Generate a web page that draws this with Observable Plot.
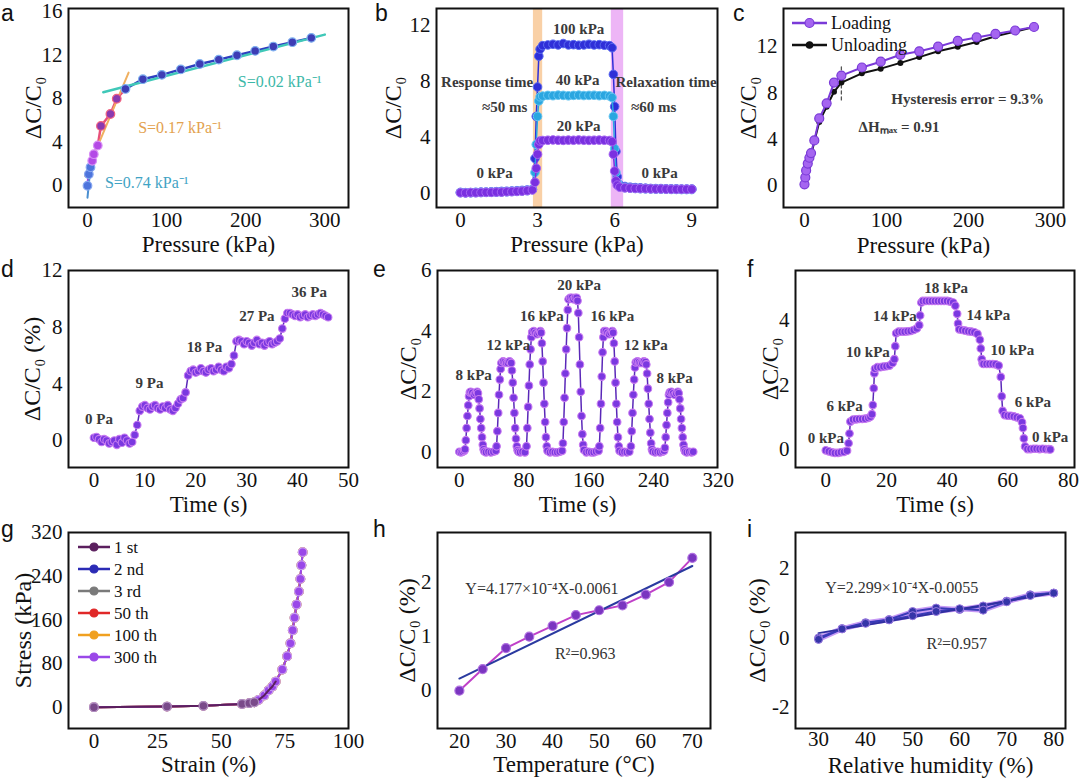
<!DOCTYPE html>
<html><head><meta charset="utf-8">
<script src="https://cdn.jsdelivr.net/npm/d3@7"></script>
<script src="https://cdn.jsdelivr.net/npm/@observablehq/plot@0.6"></script>
<style>
body{margin:0;background:#fff;}
#fig{position:relative;width:1080px;height:779px;overflow:hidden;background:#fff;font-family:"Liberation Serif","Times New Roman",serif;}
#fig svg text{font-family:"Liberation Serif","Times New Roman",serif;}
.plab{position:absolute;font-family:"Liberation Sans",Arial,sans-serif;font-size:23px;line-height:1;color:#111;}
.leg{position:absolute;display:flex;align-items:center;color:#111;white-space:nowrap;line-height:1;font-family:"Liberation Serif","Times New Roman",serif;}
</style></head><body><div id="fig"></div><script>
// ---------- data ----------
// a: sensitivity
const aPressure = [0,1.7,3.8,6,8,13,17,29,37,48,70,94,118,142,166,189,212,235,259,283];
const aSignal   = [0,1.06,1.7,2.3,2.9,3.7,5.5,6.6,8.0,8.9,9.8,10.2,10.7,11.2,11.6,12.0,12.4,12.8,13.2,13.6];
const aFit1X = [0,5],   aFit1Y = [-1.1,2.6];
const aFit2X = [-3,52], aFit2Y = [0.9,10.4];
const aFit3X = [20,300], aFit3Y = [8.6,13.9];
const aNotes = ["S=0.02 kPa⁻¹","S=0.17 kPa⁻¹","S=0.74 kPa⁻¹"];
const aNoteX = [243,117,75], aNoteY = [9.55,5.36,0.3];

// b: response
const bTime = [0,0.2,0.4,0.6,0.8,1.0,1.2,1.4,1.6,1.8,2.0,2.2,2.4,2.6,2.8, 2.9,2.95,3.0,3.05,3.1, 3.2,3.4,3.6,3.8,4.0,4.2,4.4,4.6,4.8,5.0,5.2,5.4,5.6,5.8, 5.9,5.95,6.0,6.05,6.1,6.2, 6.4,6.6,6.8,7.0,7.2,7.4,7.6,7.8,8.0,8.2,8.4,8.6,8.8,9.0];
const b20  = [0.05,0.04,0.06,0.05,0.07,0.08,0.08,0.1,0.1,0.12,0.13,0.15,0.17,0.2,0.25, 0.8,1.8,2.8,3.5,3.75, 3.78,3.8,3.82,3.8,3.79,3.81,3.8,3.82,3.8,3.79,3.8,3.81,3.8,3.78, 3.7,2.8,1.6,0.9,0.6,0.45, 0.4,0.38,0.36,0.35,0.34,0.33,0.32,0.32,0.31,0.3,0.3,0.3,0.3,0.3];
const b40  = [0.06,0.05,0.05,0.07,0.07,0.08,0.09,0.1,0.11,0.12,0.14,0.15,0.18,0.2,0.28, 1.5,3.5,5.5,6.6,6.9, 6.95,7.0,6.98,7.02,7.0,6.97,7.0,7.02,6.99,7.0,7.01,6.98,7.0,6.96, 6.85,5.5,3.2,1.5,0.8,0.5, 0.42,0.38,0.36,0.34,0.33,0.32,0.31,0.3,0.3,0.29,0.29,0.28,0.28,0.28];
const b100 = [0.08,0.06,0.07,0.08,0.1,0.1,0.12,0.13,0.15,0.16,0.18,0.2,0.22,0.25,0.3, 2.5,5.5,7.6,9.8,10.3, 10.55,10.6,10.65,10.6,10.7,10.6,10.62,10.58,10.6,10.65,10.6,10.62,10.58,10.55, 10.4,8.5,6.2,3.0,1.2,0.6, 0.5,0.45,0.42,0.4,0.38,0.36,0.35,0.35,0.34,0.33,0.33,0.32,0.32,0.32];
const bResponseBand = [2.84,3.2], bRelaxBand = [5.87,6.35];
const bNotes = ["100 kPa","40 kPa","20 kPa","0 kPa","0 kPa","Response time","≈50 ms","Relaxation time","≈60 ms"];
const bNoteX = [4.6,4.56,4.6,1.33,7.75,1.04,1.72,8.0,7.52];
const bNoteY = [11.7,8.08,4.82,1.43,1.43,7.96,6.18,7.96,6.18];

// c: hysteresis
const cPressure  = [0,1,2,4,6,8,12,18,27,36,45,70,93,117,140,163,187,210,233,257,280];
const cLoading   = [0.1,0.7,1.3,1.9,2.4,2.8,3.9,5.8,7.1,8.9,9.5,10.2,10.7,11.3,11.6,12.0,12.5,12.8,13.1,13.4,13.7];
const cUnloading = [0,0.4,1.0,1.6,2.2,2.6,3.8,5.5,6.8,8.1,8.9,9.7,10.1,10.6,11.1,11.6,12.0,12.4,12.9,13.3,13.7];
const cDashX = [45,45], cDashY = [7.4,10.4];
const cNotes = ["Hysteresis error = 9.3%","ΔHₘₐₓ = 0.91"];
const cNoteX = [199,66], cNoteY = [7.47,5.03];

// d: low pressure steps
const dTime = [0,0.5,1,1.5,2,2.5,3,3.5,4,4.5,5,5.5,6,6.5,7,7.5,8,8.5,9,9.5,10,10.5,11,11.5,12,12.5,13,13.5,14,14.5,15,15.5,16,16.5,17,17.5,18,18.5,19,19.5,20,20.5,21,21.5,22,22.5,23,23.5,24,24.5,25,25.5,26,26.5,27,27.5,28,28.5,29,29.5,30,30.5,31,31.5,32,32.5,33,33.5,34,34.5,35,35.5,36,36.5,37,37.5,38,38.5,39,39.5,40,40.5,41,41.5,42,42.5,43,43.5,44,44.5,45,45.5,46];
const dValue = [0.2,0.25,0.1,-0.1,0.1,0.0,-0.2,-0.1,0.0,-0.3,0.1,-0.15,0.2,0.0,-0.2,-0.1, 0.4,1.1,2.1,2.4, 2.5,2.3,2.2,2.4,2.5,2.3,2.2,2.4,2.3,2.5,2.2,2.1,2.3, 2.6,2.9,3.0,3.4,4.6,4.9, 5.0,4.8,4.9,5.1,4.9,4.8,5.0,5.1,4.9,5.0,5.2,5.0,4.9,5.2,5.1,5.4, 6.0,7.0,7.1, 7.0,6.8,7.0,6.9,6.7,6.9,7.1,6.8,6.9,6.7,6.9,7.0,6.8,6.9,7.0,7.2, 7.9,8.6,9.0, 9.0,8.9,8.8,8.9,8.7,8.8,8.9,8.7,8.8,8.9,8.8,8.9,9.0,8.9,8.8,8.7];
const dNotes = ["0 Pa","9 Pa","18 Pa","27 Pa","36 Pa"];
const dNoteX = [1.0,10.9,21.7,32,42.3], dNoteY = [1.53,4.05,6.6,8.8,10.5];

// e: cyclic peaks
const eTime = [0,2,4,6, 7,8,9,10,11,12,13, 14,16,18,20,22,23, 24,25,26,27,28,29,30,31, 33,36,39,42,45,
 46,47,48,49,50,51,52, 54,56,58,60,62,64, 65,66,67,68,69,70,71,72,73, 75,78,81,
 83,84,85,86,87,88,89,90, 92,94,96,98,100,101, 102,103,104,105,106,107,108,109, 112,115,118,121,124,127,
 128,129,130,131,132,133,134,135, 137,139,141,143,145,146, 147,148,149,150,151,152,153,154, 157,160,163,166,169,172,
 173,174,175,176,177,178,179, 181,183,185,187,189,190, 191,192,193,194,195,196,197,198, 201,204,207,210,
 212,213,214,215,216,217,218, 220,222,224,226,228,230,231, 232,233,234,235,236,237,238,239, 242,245,248,251,253,
 254,255,256,257,258,259,260, 262,264,266,268,270,271, 272,273,274,275,276,277,278,279, 281,284,287,289];
const eValue = [0.02,0,0.02,0.05, 0.1,0.4,0.8,1.2,1.55,1.85,1.98, 2.0,1.97,1.9,1.95,2.0,1.95, 1.75,1.45,1.1,0.8,0.5,0.25,0.1,0.03, 0,0.02,0,0.02,0.05,
 0.2,0.7,1.3,1.9,2.4,2.75,2.95, 3.0,2.98,2.95,2.95,3.0,2.95, 2.7,2.3,1.8,1.3,0.8,0.45,0.2,0.07,0.02, 0,0.02,0,
 0.2,0.8,1.5,2.2,2.9,3.4,3.8,3.97, 4.0,3.95,3.9,3.95,4.0,3.95, 3.6,3.0,2.3,1.6,1.0,0.5,0.2,0.05, 0,0.02,0,0,0.02,0.05,
 0.3,1.0,1.8,2.6,3.4,4.1,4.7,5.05, 5.1,5.1,5.05,5.1,5.1,5.0, 4.6,3.8,2.9,2.0,1.2,0.6,0.25,0.08, 0,0.02,0,0,0.03,0.05,
 0.2,0.8,1.6,2.5,3.3,3.8,4.0, 4.0,3.95,3.9,3.95,4.0,3.95, 3.6,3.0,2.3,1.6,1.0,0.5,0.2,0.05, 0,0.02,0,0.02,
 0.2,0.7,1.3,1.9,2.4,2.8,2.97, 3.0,2.98,2.95,2.95,3.0,2.98,2.9, 2.6,2.1,1.6,1.1,0.65,0.3,0.1,0.03, 0,0.02,0,0.02,0.05,
 0.15,0.5,0.9,1.3,1.65,1.9,1.98, 2.0,1.95,1.9,1.95,2.0,1.95, 1.75,1.45,1.1,0.8,0.5,0.25,0.1,0.03, 0,0.02,0,0.02];
const eNotes = ["8 kPa","12 kPa","16 kPa","20 kPa","16 kPa","12 kPa","8 kPa"];
const eNoteX = [17.7,60.6,102,148,189,230.5,266], eNoteY = [2.55,3.52,4.49,5.52,4.49,3.52,2.46];

// f: staircase
const fTime = [0,1,2,3,4,5,6,7, 7.5,7.8,8.1, 9,10,11,12,13,14,14.7, 15.2,15.5,15.8,16.0,16.2, 17,18,19,20,21,22, 22.6,22.9,23.2, 24,25,26,27,28,29,30, 30.8,31.1,31.5, 32,33,34,35,36,37,38,39,40,41,42,42.7, 43.3,43.6,44, 45,46,47,48,49,50, 50.8,51.1,51.4,51.7, 52,53,54,55,56,57, 57.7,58,58.3, 59,60,61,62,63,64, 64.7,65,65.3,65.7, 66.5,67.5,68.5,69.5,70.5,71.5,72.5,73.5,74];
const fValue = [-0.02,-0.05,-0.08,-0.1,-0.1,-0.08,-0.07,-0.03, 0.2,0.5,0.87, 0.93,0.94,0.95,0.95,0.96,0.98,1.02, 1.1,1.38,1.9,2.36,2.5, 2.55,2.55,2.57,2.58,2.6,2.68, 2.8,3.2,3.6, 3.65,3.65,3.65,3.66,3.67,3.7,3.75, 3.85,4.15,4.55, 4.6,4.6,4.6,4.6,4.6,4.6,4.6,4.6,4.6,4.58,4.55,4.45, 4.2,3.9,3.72, 3.7,3.68,3.66,3.65,3.63,3.58, 3.4,3.13,2.8,2.67, 2.65,2.65,2.65,2.65,2.64,2.6, 2.25,1.65,1.2, 1.07,1.05,1.05,1.03,1.0,0.97, 0.85,0.67,0.35,0.1, 0.02,0.02,0.03,0.03,0.02,0.03,0.02,0.02,0.01];
const fNotes = ["0 kPa","6 kPa","10 kPa","14 kPa","18 kPa","14 kPa","10 kPa","6 kPa","0 kPa"];
const fNoteX = [0,6.2,13.9,22.8,39.7,53.6,61.5,68.3,74];
const fNoteY = [0.36,1.33,3.03,4.12,5.0,4.15,3.08,1.46,0.39];

// g: stress-strain cycles
const gStrain = [0,28.7,43,58.2,61,63,64.7,66.9,68.6,70.1,71.4,74,75.9,77.2,78.1,78.8,79.6,80.5,81.1,81.5,82];
const gStress = [0,1.2,2.5,6,7.4,9,13.5,21.5,30.8,38,47,69,93.5,117,141,164,188,212,235,260,284];
const gSeries = ["1 st","2 nd","3 rd","50 th","100 th","300 th"];

// h: temperature
const hTemp = [20,25,30,35,40,45,50,55,60,65,70];
const hSignal = [0,0.4,0.79,1.0,1.2,1.4,1.49,1.58,1.78,2.01,2.46];
const hFitX = [20,70], hFitY = [0.225,2.31];
const hNotes = ["Y=4.177×10⁻⁴X-0.0061","R²=0.963"];
const hNoteX = [37.7,47], hNoteY = [1.88,0.68];

// i: humidity
const iHumidity = [30,35,40,45,50,55,60,65,70,75,80];
const iSignal1 = [0.0,0.27,0.44,0.53,0.76,0.86,0.82,0.92,1.06,1.24,1.29];
const iSignal2 = [-0.04,0.26,0.42,0.52,0.64,0.76,0.84,0.80,1.04,1.22,1.29];
const iFitX = [30,80], iFitY = [0.14,1.29];
const iNotes = ["Y=2.299×10⁻⁴X-0.0055","R²=0.957"];
const iNoteX = [47.7,59.4], iNoteY = [1.44,-0.18];

// ---------- helpers ----------
const fig = document.getElementById("fig");
const SERIF = '"Liberation Serif","Times New Roman",serif';
const zip = (xs, ys) => xs.map((x, i) => ({x, y: ys[i]}));
function notes(texts, xs, ys, opts) {
  return Plot.text(texts.map((t, i) => ({t, x: xs[i], y: ys[i]})),
    Object.assign({x: "x", y: "y", text: "t", fontSize: 15, fontWeight: "bold", fill: "#3a3a3a", fontFamily: SERIF}, opts || {}));
}
function panel(p) {
  const mL = 75, mR = 6, mT = 10, mB = 60;
  const w = p.R - p.L, h = p.B - p.T;
  const svg = Plot.plot({
    width: mL + w + mR, height: mT + h + mB,
    marginLeft: mL, marginRight: mR, marginTop: mT, marginBottom: mB,
    style: {fontSize: "21px", color: "#111", background: "none", overflow: "visible"},
    color: {type: "identity"},
    x: {domain: p.xd, ticks: p.xt, tickSize: 0, tickPadding: p.xpad ?? 5, label: null, tickFormat: d => String(d)},
    y: {domain: p.yd, ticks: p.yt, tickSize: 0, tickPadding: 6, label: null, tickFormat: d => String(d)},
    marks: [
      ...p.marks,
      Plot.frame({stroke: "#111", strokeWidth: 2}),
      Plot.text([p.xlabel], {text: d => d, frameAnchor: "bottom", dy: p.xdy, textAnchor: "middle", lineAnchor: "middle", fontSize: 23, fill: "#111", fontFamily: SERIF}),
      Plot.text([p.ylabel], {text: d => d, frameAnchor: "left", dx: p.ydx, rotate: -90, textAnchor: "middle", lineAnchor: "middle", fontSize: 24, fill: "#111", fontFamily: SERIF})
    ]
  });
  svg.setAttribute("font-family", SERIF);
  svg.style.fontFamily = SERIF;
  svg.style.position = "absolute";
  svg.style.left = (p.L - mL) + "px";
  svg.style.top = (p.T - mT) + "px";
  fig.appendChild(svg);
}
function letter(t, left, top) {
  const d = document.createElement("div");
  d.className = "plab"; d.textContent = t;
  d.style.left = left + "px"; d.style.top = top + "px";
  fig.appendChild(d);
}
function legendRow(left, cy, stroke, fill, label, lw, r, fs) {
  const d = document.createElement("div");
  d.className = "leg";
  d.style.left = left + "px"; d.style.top = (cy - 10) + "px"; d.style.height = "20px";
  d.style.fontSize = fs + "px";
  d.innerHTML = `<svg width="${lw}" height="20" style="overflow:visible"><line x1="0" x2="${lw}" y1="10" y2="10" stroke="${stroke}" stroke-width="2.5"/><circle cx="${lw/2}" cy="10" r="${r}" fill="${fill}" stroke="${stroke}" stroke-width="1.2"/></svg><span style="margin-left:4px">${label}</span>`;
  fig.appendChild(d);
}

// ---------- panel a ----------
const aData = zip(aPressure, aSignal);
panel({L: 68, R: 348, T: 8, B: 207, xd: [-24, 330], yd: [-2, 16.3], xt: [0,100,200,300], yt: [0,4,8,12,16],
  xlabel: "Pressure (kPa)", ylabel: "ΔC/C₀", xdy: 37, ydx: -35,
  marks: [
    Plot.line(aData.filter(d => d.x <= 13), {x: "x", y: "y", stroke: "#a436e6", strokeWidth: 2.5}),
    Plot.line(aData.filter(d => d.x >= 13 && d.x <= 48), {x: "x", y: "y", stroke: "#e8507a", strokeWidth: 2.5}),
    Plot.line(aData.filter(d => d.x >= 48), {x: "x", y: "y", stroke: "#2f3fc0", strokeWidth: 2.5}),
    Plot.line(zip(aFit1X, aFit1Y), {x: "x", y: "y", stroke: "#4a8fd0", strokeWidth: 2}),
    Plot.line(zip(aFit2X, aFit2Y), {x: "x", y: "y", stroke: "#f0b060", strokeWidth: 2}),
    Plot.line(zip(aFit3X, aFit3Y), {x: "x", y: "y", stroke: "#40c8b8", strokeWidth: 2.5}),
    Plot.dot(aData, {x: "x", y: "y", r: 4.3,
      fill: d => d.x < 5 ? "#4d74dc" : d.x < 15 ? "#b44ae6" : d.x < 45 ? "#8a3ab0" : "#3d3db5",
      stroke: d => d.x < 5 ? "#86a6f0" : d.x < 15 ? "#d890f5" : d.x < 45 ? "#f06080" : "#7fb0f0", strokeWidth: 1.2}),
    notes([aNotes[0]], [aNoteX[0]], [aNoteY[0]], {fill: "#3cb8a8", fontWeight: "normal", fontSize: 16}),
    notes([aNotes[1]], [aNoteX[1]], [aNoteY[1]], {fill: "#e3a24f", fontWeight: "normal", fontSize: 16}),
    notes([aNotes[2]], [aNoteX[2]], [aNoteY[2]], {fill: "#3fa3c4", fontWeight: "normal", fontSize: 16})
  ]});

// ---------- panel b ----------
const bSeries = [
  {v: b100, fill: "#2f2fd8", stroke: "#5a6af0"},
  {v: b40,  fill: "#2aa6e0", stroke: "#66c6f2"},
  {v: b20,  fill: "#7a30e0", stroke: "#a565f2"}
];
panel({L: 436, R: 717, T: 8, B: 207, xd: [-0.93, 10.0], yd: [-1.0, 13.2], xt: [0,3,6,9], yt: [0,4,8,12],
  xlabel: "Pressure (kPa)", ylabel: "ΔC/C₀", xdy: 37, ydx: -43,
  marks: [
    Plot.rect([bResponseBand], {x1: d => d[0], x2: d => d[1], fill: "#f8c896", fillOpacity: 0.85}),
    Plot.rect([bRelaxBand], {x1: d => d[0], x2: d => d[1], fill: "#eaa8f4", fillOpacity: 0.85}),
    ...bSeries.flatMap(s => [
      Plot.line(zip(bTime, s.v), {x: "x", y: "y", stroke: s.fill, strokeWidth: 1.5}),
      Plot.dot(zip(bTime, s.v), {x: "x", y: "y", r: 4.3, fill: s.fill, stroke: s.stroke, strokeWidth: 1})
    ]),
    notes(bNotes, bNoteX, bNoteY, {fontSize: 15})
  ]});

// ---------- panel c ----------
panel({L: 783, R: 1063, T: 8, B: 207, xd: [-25.6, 316], yd: [-1.9, 15.3], xt: [0,100,200,300], yt: [0,4,8,12],
  xlabel: "Pressure (kPa)", ylabel: "ΔC/C₀", xdy: 38, ydx: -35,
  marks: [
    Plot.line(zip(cDashX, cDashY), {x: "x", y: "y", stroke: "#555", strokeWidth: 1.3, strokeDasharray: "3,3"}),
    Plot.line(zip(cPressure, cUnloading), {x: "x", y: "y", stroke: "#111", strokeWidth: 2}),
    Plot.dot(zip(cPressure, cUnloading), {x: "x", y: "y", r: 3, fill: "#111"}),
    Plot.line(zip(cPressure, cLoading), {x: "x", y: "y", stroke: "#7a3ad8", strokeWidth: 2}),
    Plot.dot(zip(cPressure, cLoading), {x: "x", y: "y", r: 4.5, fill: "#a565f0", stroke: "#7a3ad8", strokeWidth: 1.2}),
    notes([cNotes[0]], [cNoteX[0]], [cNoteY[0]], {fontSize: 15}),
    notes([cNotes[1]], [cNoteX[1]], [cNoteY[1]], {fontSize: 15, textAnchor: "start"})
  ]});
legendRow(792, 23, "#7a3ad8", "#a565f0", "Loading", 35, 4.5, 18);
legendRow(792, 45, "#111", "#111", "Unloading", 35, 3.2, 18);

// ---------- panels d, e, f ----------
const purpleDots = (data) => [
  Plot.line(data, {x: "x", y: "y", stroke: "#5a28b8", strokeWidth: 1.5}),
  Plot.dot(data, {x: "x", y: "y", r: 3.8, fill: "#7a38e0", stroke: "#c77af0", strokeWidth: 1.1})
];
panel({L: 68, R: 348, T: 270, B: 467, xd: [-5, 50], yd: [-1.9, 12], xt: [0,10,20,30,40,50], yt: [0,4,8,12],
  xlabel: "Time (s)", ylabel: "ΔC/C₀ (%)", xdy: 37, ydx: -36,
  marks: [...purpleDots(zip(dTime, dValue)), notes(dNotes, dNoteX, dNoteY, {fontSize: 15})]});
panel({L: 437, R: 717, T: 270, B: 467, xd: [-27, 319], yd: [-0.5, 6], xt: [0,80,160,240,320], yt: [0,2,4,6],
  xlabel: "Time (s)", ylabel: "ΔC/C₀", xdy: 37, ydx: -29,
  marks: [...purpleDots(zip(eTime, eValue)), notes(eNotes, eNoteX, eNoteY, {fontSize: 15})]});
panel({L: 795, R: 1074, T: 270, B: 467, xd: [-10, 82], yd: [-0.55, 5.54], xt: [0,20,40,60,80], yt: [0,2,4],
  xlabel: "Time (s)", ylabel: "ΔC/C₀", xdy: 37, ydx: -25,
  marks: [...purpleDots(zip(fTime, fValue)), notes(fNotes, fNoteX, fNoteY, {fontSize: 15})]});

// ---------- panel g ----------
const gColors = ["#5b1f5e","#2b2bb5","#7a7a7a","#e02828","#f0a020","#9a48e8"];
const gLight  = ["#9a5fa0","#6a6ae0","#b0b0b0","#f08080","#f8c870","#c79af5"];
const gData = zip(gStrain, gStress);
panel({L: 68, R: 348, T: 532, B: 728, xd: [-10, 100], yd: [-39, 320], xt: [0,25,50,75,100], yt: [0,80,160,240,320],
  xlabel: "Strain (%)", ylabel: "Stress (kPa)", xdy: 36, ydx: -45,
  marks: [
    ...gSeries.slice(1).flatMap((s, k) => [
      Plot.line(gData, {x: "x", y: "y", stroke: gColors[k + 1], strokeWidth: 2}),
      Plot.dot(gData, {x: "x", y: "y", r: 4.3, fill: gColors[k + 1], stroke: gLight[k + 1], strokeWidth: 1.2})
    ]),
    Plot.line(gData.filter(d => d.y < 60), {x: "x", y: "y", stroke: gColors[0], strokeWidth: 2}),
    Plot.dot(gData.filter(d => d.y < 10), {x: "x", y: "y", r: 4.3, fill: "#7a4a8a", stroke: "#b090c0", strokeWidth: 1.2})
  ]});
gSeries.forEach((s, k) => legendRow(78, 547 + k * 22, gColors[k], gColors[k], s, 32, 4, 17));

// ---------- panel h ----------
panel({L: 437, R: 710, T: 532, B: 728, xd: [15.3, 73.9], yd: [-0.7, 2.93], xt: [20,30,40,50,60,70], yt: [0,1,2],
  xlabel: "Temperature (°C)", ylabel: "ΔC/C₀ (%)", xdy: 36, ydx: -30,
  marks: [
    Plot.line(zip(hTemp, hSignal), {x: "x", y: "y", stroke: "#c040c8", strokeWidth: 2}),
    Plot.line(zip(hFitX, hFitY), {x: "x", y: "y", stroke: "#2a3aa0", strokeWidth: 2}),
    Plot.dot(zip(hTemp, hSignal), {x: "x", y: "y", r: 4.5, fill: "#7a35c0", stroke: "#b070e0", strokeWidth: 1.2}),
    notes(hNotes, hNoteX, hNoteY, {fontSize: 16, fontWeight: "normal", fill: "#333"})
  ]});

// ---------- panel i ----------
panel({L: 795, R: 1065, T: 532, B: 728, xd: [25.1, 82.5], yd: [-2.6, 3.03], xt: [30,40,50,60,70,80], yt: [-2,0,2],
  xlabel: "Relative humidity (%)", ylabel: "ΔC/C₀ (%)", xdy: 37, xpad: 3, ydx: -38,
  marks: [
    Plot.line(zip(iHumidity, iSignal1), {x: "x", y: "y", stroke: "#c79af5", strokeWidth: 5}),
    Plot.line(zip(iHumidity, iSignal2), {x: "x", y: "y", stroke: "#c79af5", strokeWidth: 5}),
    Plot.line(zip(iHumidity, iSignal1), {x: "x", y: "y", stroke: "#3a3ab8", strokeWidth: 2}),
    Plot.line(zip(iHumidity, iSignal2), {x: "x", y: "y", stroke: "#3a3ab8", strokeWidth: 2}),
    Plot.line(zip(iFitX, iFitY), {x: "x", y: "y", stroke: "#3030a0", strokeWidth: 2}),
    Plot.dot(zip(iHumidity, iSignal1), {x: "x", y: "y", r: 4, fill: "#3535a8", stroke: "#9a7ae0", strokeWidth: 1}),
    Plot.dot(zip(iHumidity, iSignal2), {x: "x", y: "y", r: 4, fill: "#3535a8", stroke: "#9a7ae0", strokeWidth: 1}),
    notes(iNotes, iNoteX, iNoteY, {fontSize: 16, fontWeight: "normal", fill: "#333"})
  ]});

// ---------- panel letters ----------
letter("a", 1, 2); letter("b", 375, 2); letter("c", 733, 2);
letter("d", 1, 258); letter("e", 373, 258); letter("f", 747, 258);
letter("g", 1, 518); letter("h", 373, 518); letter("i", 747, 518);
</script></body></html>
